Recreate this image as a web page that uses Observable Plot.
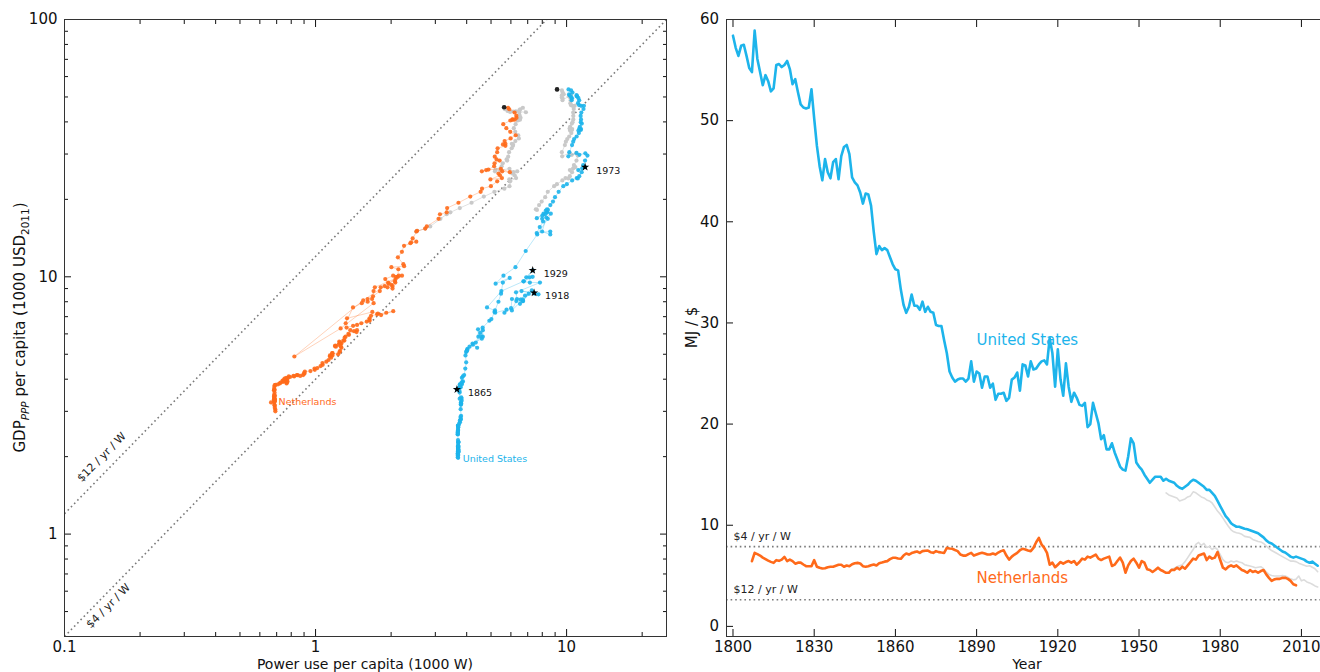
<!DOCTYPE html>
<html><head><meta charset="utf-8">
<script src="https://cdn.jsdelivr.net/npm/d3@7"></script>
<script src="https://cdn.jsdelivr.net/npm/@observablehq/plot@0.6"></script>
<style>
html,body{margin:0;padding:0;background:#fff;overflow:hidden;}
#wrap{display:flex;width:1328px;height:672px;}
#wrap svg{display:block;flex:none;}
</style></head><body><div id="wrap"></div>
<script>
// ---------- data ----------
const US_START = 1800, NL_START = 1807, GREY_START = 1960;
// energy intensity, MJ per $ (GDP ppp, 2011 USD)
const usIntensity = [
/*1800*/ 58.4, 57.2, 56.4, 57.4, 57.5, 56.4, 55.2, 54.8, 58.9, 56.1,
/*1810*/ 54.8, 53.5, 54.5, 53.9, 52.9, 53.2, 55.5, 55.6, 55.3, 55.5,
/*1820*/ 55.9, 55.1, 53.6, 54.1, 52.8, 51.6, 51.3, 51.2, 51.3, 53.1,
/*1830*/ 50.2, 47.5, 45.5, 44.1, 46.2, 44.9, 44.3, 45.9, 46.2, 44.2,
/*1840*/ 46.5, 47.4, 47.6, 46.7, 44.4, 43.9, 43.6, 42.9, 41.8, 42.8,
/*1850*/ 42.7, 41.6, 39.0, 36.8, 37.6, 37.2, 37.4, 37.2, 36.5, 35.8,
/*1860*/ 35.3, 35.2, 33.3, 31.8, 31.0, 31.6, 32.8, 31.7, 31.7, 31.3,
/*1870*/ 32.1, 31.1, 31.6, 31.1, 31.0, 29.8, 29.7, 29.7, 28.3, 27.0,
/*1880*/ 25.2, 24.6, 24.2, 24.4, 24.5, 24.5, 24.2, 24.5, 26.2, 24.2,
/*1890*/ 25.2, 25.0, 23.6, 24.7, 24.7, 23.6, 24.0, 22.4, 23.0, 23.0,
/*1900*/ 23.1, 22.3, 22.6, 24.4, 24.6, 25.1, 23.3, 25.9, 25.8, 24.7,
/*1910*/ 26.2, 25.4, 25.5, 25.9, 26.2, 26.3, 25.9, 28.5, 27.0, 23.7,
/*1920*/ 27.4, 24.4, 22.8, 26.0, 23.7, 22.2, 23.1, 22.6, 21.9, 21.8,
/*1930*/ 22.1, 19.7, 20.0, 22.1, 21.1, 20.1, 18.5, 18.9, 17.5, 17.5,
/*1940*/ 18.1, 17.2, 16.5, 15.8, 15.5, 15.4, 16.8, 18.6, 18.1, 16.2,
/*1950*/ 15.8, 15.5, 15.0, 14.6, 14.2, 14.5, 14.8, 14.8, 14.8, 14.4,
/*1960*/ 14.6, 14.4, 14.3, 14.2, 13.9, 13.7, 13.6, 13.8, 14.0, 14.3,
/*1970*/ 14.5, 14.4, 14.2, 14.0, 13.8, 13.5, 13.5, 13.2, 12.9, 12.4,
/*1980*/ 11.9, 11.4, 10.9, 10.6, 10.2, 10.0, 9.85, 9.85, 9.75, 9.65,
/*1990*/ 9.6, 9.5, 9.4, 9.3, 9.2, 9.0, 8.8, 8.5, 8.3, 8.2,
/*2000*/ 8.0, 7.8, 7.6, 7.4, 7.3, 7.1, 6.9, 6.8, 6.9, 6.8,
/*2010*/ 6.7, 6.6, 6.4, 6.3, 6.4, 6.2, 6.0
];
// GDP ppp per capita, 1000 USD 2011
const usGDP = [
/*1800*/ 1.99, 2.03, 2.06, 2.03, 2.03, 2.07, 2.11, 2.13, 1.98, 2.08,
/*1810*/ 2.13, 2.18, 2.14, 2.16, 2.20, 2.19, 2.10, 2.10, 2.11, 2.10,
/*1820*/ 2.09, 2.12, 2.18, 2.16, 2.21, 2.26, 2.28, 2.28, 2.28, 2.20,
/*1830*/ 2.32, 2.45, 2.56, 2.64, 2.52, 2.60, 2.63, 2.54, 2.52, 2.64,
/*1840*/ 2.50, 2.45, 2.44, 2.49, 2.63, 2.68, 2.72, 2.76, 2.85, 2.79,
/*1850*/ 2.80, 2.88, 3.06, 3.25, 3.18, 3.22, 3.20, 3.22, 3.30, 3.36,
/*1860*/ 3.40, 3.36, 3.55, 3.72, 3.82, 3.65, 3.60, 3.72, 3.75, 3.80,
/*1870*/ 3.72, 3.86, 3.82, 3.92, 3.90, 4.05, 4.10, 4.15, 4.40, 4.65,
/*1880*/ 4.95, 5.10, 5.25, 5.20, 5.15, 5.15, 5.35, 5.45, 5.30, 5.50,
/*1890*/ 5.75, 5.85, 6.20, 5.85, 5.55, 6.05, 5.85, 6.25, 6.35, 6.75,
/*1900*/ 6.85, 7.30, 7.25, 7.45, 7.25, 7.55, 8.20, 8.15, 7.40, 8.05,
/*1910*/ 8.05, 8.15, 8.45, 8.60, 7.85, 8.05, 8.85, 8.55, 8.67, 8.80,
/*1920*/ 8.60, 8.20, 8.70, 9.50, 9.50, 9.60, 10.0, 9.95, 9.95, 10.6,
/*1930*/ 9.6, 8.8, 7.6, 7.4, 8.0, 8.6, 9.5, 9.9, 9.4, 10.1,
/*1940*/ 10.9, 12.6, 14.6, 16.8, 17.6, 17.0, 15.0, 14.6, 15.0, 14.8,
/*1950*/ 15.6, 16.4, 16.8, 17.3, 16.9, 17.6, 17.8, 17.8, 17.5, 18.1,
/*1960*/ 18.2, 18.3, 19.0, 19.6, 20.4, 21.4, 22.5, 22.9, 23.7, 24.2,
/*1970*/ 24.1, 24.6, 25.5, 26.7, 26.4, 26.0, 27.2, 28.3, 29.6, 30.2,
/*1980*/ 29.8, 30.3, 29.4, 30.5, 32.5, 33.5, 34.3, 35.1, 36.2, 37.2,
/*1990*/ 37.5, 37.0, 37.7, 38.3, 39.4, 39.9, 40.9, 42.2, 43.5, 44.9,
/*2000*/ 46.2, 46.2, 46.5, 47.3, 48.5, 49.5, 50.3, 50.8, 50.3, 48.6,
/*2010*/ 49.4, 49.9, 50.7, 51.2, 52.0, 53.0, 53.5
];
// alternative (grey) series from 1960
const usGreyIntensity = [
/*1960*/ 13.2, 13.0, 12.9, 12.8, 12.7, 12.4, 12.5, 12.6, 12.8, 12.9,
/*1970*/ 13.3, 13.2, 13.0, 12.8, 12.7, 12.5, 12.4, 12.2, 11.8, 11.4,
/*1980*/ 11.1, 10.7, 10.3, 9.9, 9.55, 9.35, 9.25, 9.2, 9.1, 8.9,
/*1990*/ 8.85, 8.8, 8.6, 8.5, 8.4, 8.35, 8.2, 7.95, 7.7, 7.5,
/*2000*/ 7.35, 7.2, 7.05, 6.9, 6.75, 6.6, 6.45, 6.45, 6.4, 6.25,
/*2010*/ 6.15, 6.05, 5.95, 6.0, 5.85, 5.7, 5.4
];
const nlIntensity = [
/*1807*/ 6.45, 7.27, 7.15,
/*1810*/ 7.0, 6.8, 6.65, 6.5, 6.38, 6.28, 6.55, 6.48, 6.6, 6.87,
/*1820*/ 6.45, 6.6, 6.45, 6.2, 6.3, 6.3, 6.12, 5.95, 5.95, 5.95,
/*1830*/ 6.55, 5.9, 5.79, 5.72, 5.75, 5.85, 5.9, 5.9, 6.0, 6.1,
/*1840*/ 6.1, 5.9, 6.02, 5.95, 6.15, 6.25, 6.28, 6.22, 5.95, 5.9,
/*1850*/ 5.95, 6.05, 6.12, 6.02, 6.25, 6.32, 6.4, 6.45, 6.65, 6.78,
/*1860*/ 6.78, 6.72, 6.68, 7.0, 7.2, 7.1, 7.25, 7.34, 7.4, 7.27,
/*1870*/ 7.44, 7.48, 7.5, 7.34, 7.27, 7.44, 7.34, 7.3, 7.27, 7.76,
/*1880*/ 7.7, 7.67, 7.55, 7.44, 7.1, 7.0, 7.0, 7.15, 7.27, 7.0,
/*1890*/ 7.1, 7.2, 7.27, 7.2, 7.1, 7.1, 7.2, 7.1, 7.3, 7.44,
/*1900*/ 7.53, 7.0, 6.6, 6.9, 7.1, 7.27, 7.53, 7.67, 7.6, 7.5,
/*1910*/ 7.44, 7.76, 8.32, 8.75, 8.1, 7.76, 7.27, 6.1, 6.3, 5.85,
/*1920*/ 6.1, 6.36, 6.2, 6.36, 6.46, 6.3, 6.46, 6.1, 6.36, 6.7,
/*1930*/ 6.6, 6.9, 6.8, 6.95, 7.1, 6.7, 6.56, 6.7, 6.8, 6.9,
/*1940*/ 5.97, 6.1, 6.46, 6.8, 6.3, 5.3, 6.03, 6.46, 6.7, 6.3,
/*1950*/ 5.8, 6.46, 6.3, 5.64, 5.57, 5.38, 5.57, 5.8, 5.57, 5.45,
/*1960*/ 5.3, 5.3, 5.6, 5.57, 5.8, 5.64, 5.9, 5.7, 6.03, 6.36,
/*1970*/ 6.7, 6.6, 7.0, 7.1, 7.2, 6.56, 6.9, 6.7, 6.8, 7.35,
/*1980*/ 6.56, 5.8, 5.64, 5.9, 6.03, 5.9, 6.03, 5.8, 5.57, 5.47,
/*1990*/ 5.3, 5.57, 5.38, 5.47, 5.3, 5.47, 5.57, 5.14, 4.8, 4.5,
/*2000*/ 4.65, 4.7, 4.7, 4.8, 4.8, 4.7, 4.5, 4.16, 4.06
];
const nlGDP = [
/*1807*/ 3.25, 3.00, 3.05,
/*1810*/ 3.10, 3.18, 3.25, 3.32, 3.38, 3.44, 3.30, 3.35, 3.28, 3.16,
/*1820*/ 3.36, 3.28, 3.34, 3.48, 3.42, 3.45, 3.54, 3.63, 3.64, 3.62,
/*1830*/ 3.32, 3.66, 3.73, 3.79, 3.80, 3.82, 3.85, 3.88, 3.90, 3.92,
/*1840*/ 3.98, 3.95, 3.96, 3.98, 3.92, 3.88, 3.85, 3.92, 3.95, 4.02,
/*1850*/ 4.05, 4.05, 4.08, 4.10, 4.12, 4.10, 4.15, 4.15, 4.12, 4.15,
/*1860*/ 4.20, 4.22, 4.28, 4.30, 4.35, 4.40, 4.42, 4.50, 4.55, 4.62,
/*1870*/ 4.68, 4.75, 4.85, 4.90, 4.95, 4.95, 5.00, 5.05, 5.05, 5.00,
/*1880*/ 5.10, 5.15, 5.30, 5.35, 5.35, 5.38, 5.40, 5.45, 5.50, 5.60,
/*1890*/ 5.55, 5.50, 5.65, 5.65, 5.80, 5.85, 5.95, 6.00, 6.15, 6.20,
/*1900*/ 6.10, 6.20, 6.35, 6.45, 6.50, 6.60, 6.70, 6.75, 6.80, 6.90,
/*1910*/ 7.05, 7.15, 7.25, 7.35, 7.10, 7.20, 7.30, 6.90, 6.60, 7.60,
/*1920*/ 7.90, 8.00, 8.20, 8.40, 8.80, 9.10, 9.50, 9.80, 10.1, 10.1,
/*1930*/ 10.0, 9.5, 9.3, 9.2, 9.0, 9.1, 9.4, 9.8, 9.6, 10.1,
/*1940*/ 9.1, 8.8, 8.2, 7.9, 6.3, 4.9, 8.1, 9.2, 10.0, 10.7,
/*1950*/ 10.9, 11.0, 11.2, 11.9, 12.5, 13.2, 13.5, 13.7, 13.6, 14.1,
/*1960*/ 15.1, 15.0, 15.4, 15.7, 16.8, 17.5, 17.8, 18.5, 19.4, 20.5,
/*1970*/ 21.4, 22.0, 22.5, 23.5, 24.2, 23.9, 24.8, 25.2, 25.7, 25.5,
/*1980*/ 26.3, 26.0, 25.7, 26.1, 26.9, 27.6, 28.3, 28.6, 29.3, 30.5,
/*1990*/ 31.6, 32.3, 32.7, 32.9, 33.7, 34.5, 35.5, 36.6, 37.8, 39.2,
/*2000*/ 40.5, 40.9, 40.8, 40.8, 41.5, 42.3, 43.5, 44.8, 45.4, 43.6,
/*2010*/ 44.0, 44.5, 43.9, 43.7, 44.1, 44.8, 45.6
];
const nlGreyIntensity = [
/*1960*/ 5.3, 5.3, 5.6, 5.75, 5.9, 6.0, 6.1, 6.4, 6.8, 7.2,
/*1970*/ 7.6, 8.1, 8.3, 8.0, 8.2, 7.8, 7.9, 7.6, 7.8, 7.6,
/*1980*/ 7.1, 6.6, 6.36, 6.3, 6.46, 6.36, 6.46, 6.36, 6.3, 6.1,
/*1990*/ 6.03, 5.97, 5.9, 5.8, 5.85, 5.9, 5.7, 5.38, 5.14, 5.04,
/*2000*/ 4.98, 4.98, 4.98, 5.04, 4.98, 4.85, 4.7, 4.6, 4.65, 4.98,
/*2010*/ 4.5, 4.6, 4.4, 4.3, 4.16, 4.0, 3.9
];
const rates = [12, 4];                       // $ of GDP per yr per W
const rateLabels = ["$12 / yr / W", "$4 / yr / W"];
const rateLabelPower = [0.153, 0.14];        // where the diagonal labels sit (1000 W)
const rateLabelSide = [-1, 1];               // above-left / below-right of the line
const starYears = [1865, 1918, 1929, 1973];
const countryNames = ["United States", "Netherlands"];
const rightLabelYear = [1890, 1890];
const rightLabelValue = [28.3, 4.8];
const xTicksMajor = [0.1, 1, 10];
const xTicksMinor = [0.2,0.3,0.4,0.5,0.6,0.7,0.8,0.9,2,3,4,5,6,7,8,9,20];
const yTicksMajor = [1, 10, 100];
const yTicksMinor = [0.4,0.5,0.6,0.7,0.8,0.9,2,3,4,5,6,7,8,9,20,30,40,50,60,70,80,90];
const yearTicks = [1800, 1830, 1860, 1890, 1920, 1950, 1980, 2010];
const mjTicks = [0, 10, 20, 30, 40, 50, 60];

const MJ_PER_KW_YEAR_PER_1000 = 31.536; // P[kW] = MJ/$ * GDP[k$] / 31.536
const US_COLOR = "#1db4eb", NL_COLOR = "#ff6a1a";
const FONT = "DejaVu Sans";

// ---------- rows ----------
function rows(start, mj, gdp) {
  return mj.map((v, i) => ({year: start + i, mj: v, gdp: gdp[i], power: v * gdp[i] / MJ_PER_KW_YEAR_PER_1000}));
}
const us = rows(US_START, usIntensity, usGDP);
const nl = rows(NL_START, nlIntensity, nlGDP);
const usGrey = rows(GREY_START, usGreyIntensity, usGDP.slice(GREY_START - US_START));
const nlGrey = rows(GREY_START, nlGreyIntensity, nlGDP.slice(GREY_START - NL_START));

const xDom = [0.1, 25], yDom = [0.4, 100];
const dotted = {stroke: "#7a7a7a", strokeWidth: 1.6, strokeDasharray: "1.6,3"};

function frameAxes(xMaj, xMin, yMaj, yMin, fmtX, fmtY, padY) {
  const m = [
    Plot.axisX(xMaj, {anchor: "bottom", tickSize: -7, tickPadding: 12, tickFormat: fmtX, fontSize: 15, label: null}),
    Plot.axisX(xMaj, {anchor: "top", tickSize: -7, fill: "none", label: null}),
    Plot.axisY(yMaj, {anchor: "left", tickSize: -7, tickPadding: padY, tickFormat: fmtY, fontSize: 15, label: null}),
    Plot.axisY(yMaj, {anchor: "right", tickSize: -7, fill: "none", label: null})
  ];
  if (xMin) m.push(Plot.axisX(xMin, {anchor: "bottom", tickSize: -4, fill: "none", label: null}),
                   Plot.axisX(xMin, {anchor: "top", tickSize: -4, fill: "none", label: null}));
  if (yMin) m.push(Plot.axisY(yMin, {anchor: "left", tickSize: -4, fill: "none", label: null}),
                   Plot.axisY(yMin, {anchor: "right", tickSize: -4, fill: "none", label: null}));
  m.push(Plot.frame({stroke: "#333"}));
  return m;
}

// ---------- left panel ----------
const left = Plot.plot({
  width: 670, height: 672,
  marginLeft: 64, marginRight: 4, marginTop: 19, marginBottom: 36,
  style: {fontFamily: FONT, fontSize: "15px", color: "#111", background: "white"},
  x: {type: "log", domain: xDom},
  y: {type: "log", domain: yDom},
  marks: [
    Plot.link(rates, {x1: xDom[0], y1: r => r * xDom[0], x2: r => yDom[1] / r, y2: yDom[1], ...dotted}),
    Plot.text(rates, {x: (r, i) => rateLabelPower[i], y: (r, i) => r * rateLabelPower[i],
      text: (r, i) => rateLabels[i], rotate: -45.7, fontSize: 11, fill: "#222"}),
    Plot.line(usGrey, {x: "power", y: "gdp", stroke: "#c8c8c8", strokeOpacity: 0.55, strokeWidth: 1}),
    Plot.line(nlGrey, {x: "power", y: "gdp", stroke: "#c8c8c8", strokeOpacity: 0.55, strokeWidth: 1}),
    Plot.dot(usGrey, {x: "power", y: "gdp", r: 2.1, fill: "#c9c9c9"}),
    Plot.dot(nlGrey, {x: "power", y: "gdp", r: 2.1, fill: "#c9c9c9"}),
    Plot.line(us, {x: "power", y: "gdp", stroke: US_COLOR, strokeOpacity: 0.3, strokeWidth: 1}),
    Plot.line(nl, {x: "power", y: "gdp", stroke: NL_COLOR, strokeOpacity: 0.3, strokeWidth: 1}),
    Plot.dot(us, {x: "power", y: "gdp", r: 2.1, fill: US_COLOR, fillOpacity: 0.9}),
    Plot.dot(nl, {x: "power", y: "gdp", r: 2.1, fill: NL_COLOR, fillOpacity: 0.9}),
    Plot.dot([usGrey[usGrey.length - 1], nlGrey[nlGrey.length - 1]], {x: "power", y: "gdp", r: 2.3, fill: "#222"}),
    Plot.dot(us.filter(d => starYears.includes(d.year)), {x: "power", y: "gdp", symbol: "star", r: 2.6, fill: "black"}),
    Plot.text(us.filter(d => starYears.includes(d.year)), {x: "power", y: "gdp", text: d => String(d.year),
      dx: 11, dy: 3.5, textAnchor: "start", fontSize: 9.5, fill: "#111"}),
    Plot.text([us[0]], {x: "power", y: "gdp", text: () => countryNames[0], dx: 5, dy: 2, textAnchor: "start", fontSize: 9.5, fill: US_COLOR}),
    Plot.text([nl[0]], {x: "power", y: "gdp", text: () => countryNames[1], dx: 7.5, dy: 0, textAnchor: "start", fontSize: 9.5, fill: NL_COLOR}),
    ...frameAxes(xTicksMajor, xTicksMinor, yTicksMajor, yTicksMinor, d => String(d), d => String(d), 14)
  ]
});

// shift the diagonal labels off their lines (perpendicular, in pixels)
d3.select(left).selectAll("text").filter(function() { return rateLabels.includes(this.textContent); })
  .each(function() {
    const i = rateLabels.indexOf(this.textContent);
    const off = rateLabelSide[i] * (i === 0 ? 13 : 10);
    const ox = off * 0.716, oy = off * 0.698;
    const t = this.getAttribute("transform") || "";
    this.setAttribute("transform", `translate(${ox},${oy}) ` + t);
  });

// ---------- right panel ----------
const right = Plot.plot({
  width: 658, height: 672,
  marginLeft: 56, marginRight: 0, marginTop: 19, marginBottom: 36,
  style: {fontFamily: FONT, fontSize: "15px", color: "#111", background: "white"},
  x: {domain: [1797.6, 2020]},
  y: {domain: [-1.0, 60]},
  marks: [
    Plot.ruleY(rates, {y: r => MJ_PER_KW_YEAR_PER_1000 / r, ...dotted}),
    Plot.text(rates, {x: 1797.6, y: r => MJ_PER_KW_YEAR_PER_1000 / r, text: (r, i) => rateLabels[i],
      dx: 7, dy: -10, textAnchor: "start", fontSize: 11, fill: "#222"}),
    Plot.line(usGrey, {x: "year", y: "mj", stroke: "#dcdcdc", strokeWidth: 1.6}),
    Plot.line(nlGrey, {x: "year", y: "mj", stroke: "#dcdcdc", strokeWidth: 1.6}),
    Plot.line(us, {x: "year", y: "mj", stroke: US_COLOR, strokeWidth: 2.6}),
    Plot.line(nl, {x: "year", y: "mj", stroke: NL_COLOR, strokeWidth: 2.6}),
    Plot.text(countryNames, {x: (d, i) => rightLabelYear[i], y: (d, i) => rightLabelValue[i], text: d => d,
      textAnchor: "start", fontSize: 15, fill: (d, i) => [US_COLOR, NL_COLOR][i]}),
    ...frameAxes(yearTicks, null, mjTicks, null, d => String(d), d => String(d), 14.5)
  ]
});

document.getElementById("wrap").append(left, right);

// ---------- axis titles (with subscripts) ----------
const L = d3.select(left), R = d3.select(right);
L.append("text").attr("x", 365).attr("y", 668.5).attr("text-anchor", "middle")
  .attr("font-size", 14).attr("fill", "#111").text("Power use per capita (1000 W)");
const yl = L.append("text").attr("transform", "translate(25,327.5) rotate(-90)")
  .attr("text-anchor", "middle").attr("font-size", 15).attr("fill", "#111");
yl.append("tspan").text("GDP");
yl.append("tspan").attr("font-size", 10.5).attr("font-style", "italic").attr("dy", 3.5).text("PPP");
yl.append("tspan").attr("dy", -3.5).text(" per capita (1000 USD");
yl.append("tspan").attr("font-size", 10.5).attr("dy", 3.5).text("2011");
yl.append("tspan").attr("dy", -3.5).text(")");
R.append("text").attr("x", 357).attr("y", 668.5).attr("text-anchor", "middle")
  .attr("font-size", 14).attr("fill", "#111").text("Year");
R.append("text").attr("transform", "translate(27,327.5) rotate(-90)")
  .attr("text-anchor", "middle").attr("font-size", 15).attr("fill", "#111").text("MJ / $");
</script>
</body></html>
